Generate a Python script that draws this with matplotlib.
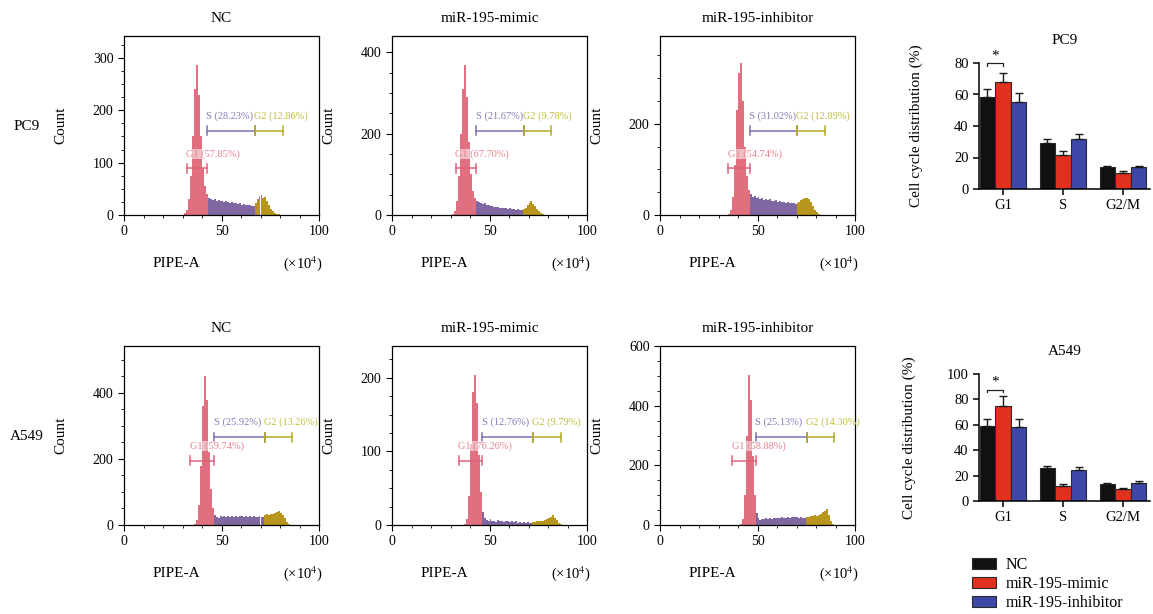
import matplotlib.pyplot as plt
from matplotlib.ticker import MultipleLocator, FixedLocator
from matplotlib.patches import Patch

plt.rcParams['font.family'] = ['Liberation Serif', 'DejaVu Serif']
plt.rcParams['mathtext.fontset'] = 'stix'

groups = ['NC', 'miR-195-mimic', 'miR-195-inhibitor']
phases = ['G1', 'S', 'G2/M']

# flow histograms: counts per bin of 1 (x1e4), first bin start
pc9_start = [31, 31, 35]
pc9_counts = [
    [3, 10, 30, 75, 150, 240, 287, 230, 150, 90, 55, 40, 32, 31, 28, 30, 27, 29, 26, 27,
     25, 27, 24, 23, 25, 22, 23, 21, 22, 20, 21, 19, 20, 19, 18, 18, 22, 30, 36, 38,
     33, 35, 27, 20, 12, 7, 4, 2, 1],
    [3, 10, 35, 95, 200, 310, 368, 290, 180, 100, 60, 42, 35, 33, 30, 28, 29, 25, 24, 22,
     23, 20, 19, 20, 18, 17, 18, 16, 15, 16, 14, 15, 13, 14, 12, 13, 14, 18, 24, 30,
     34, 28, 22, 15, 9, 5, 3, 1],
    [3, 12, 40, 110, 230, 310, 333, 250, 150, 85, 55, 45, 40, 42, 37, 39, 35, 37, 33, 35,
     32, 34, 31, 30, 32, 29, 30, 28, 29, 27, 28, 26, 27, 26, 25, 26, 28, 32, 35, 38,
     37, 34, 28, 20, 12, 6, 3, 1],
]
a549_start = [36, 37, 41]
a549_counts = [
    [3, 15, 60, 180, 360, 451, 380, 220, 110, 50, 30, 25, 22, 26, 24, 27, 23, 26, 25, 28,
     24, 27, 25, 28, 26, 24, 27, 25, 26, 24, 27, 25, 24, 26, 25, 24, 30, 33, 31, 34,
     32, 35, 38, 42, 36, 30, 20, 10, 4, 1],
    [2, 8, 40, 110, 180, 204, 165, 95, 45, 18, 9, 7, 6, 8, 5, 6, 4, 7, 5, 6,
     4, 5, 6, 4, 5, 4, 5, 3, 4, 3, 4, 3, 4, 3, 3, 4, 4, 5, 5, 6,
     6, 7, 8, 9, 11, 13, 10, 7, 3, 1],
    [3, 20, 100, 300, 503, 420, 230, 100, 40, 22, 18, 20, 19, 22, 20, 23, 21, 24, 22, 25,
     23, 26, 24, 25, 27, 25, 26, 28, 26, 27, 25, 26, 24, 25, 26, 27, 29, 30, 32, 31,
     34, 38, 42, 48, 52, 35, 15, 5, 1],
]

# gate edges (x1e4): G1 start, G1|S, S|G2, G2 end
pc9_gates = [[32.3, 42.6, 67.1, 81.4], [32.7, 43.2, 67.5, 81.4], [35.0, 46.0, 70.3, 84.5]]
a549_gates = [[34.0, 46.2, 72.3, 86.4], [34.4, 46.3, 72.3, 86.5], [37.1, 49.1, 75.4, 89.4]]
pc9_pct = [['57.85', '28.23', '12.86'], ['67.70', '21.67', '9.78'], ['54.74', '31.02', '12.89']]
a549_pct = [['59.74', '25.92', '13.26'], ['76.26', '12.76', '9.79'], ['58.88', '25.13', '14.30']]

pc9_ymax = [342, 440, 392]
a549_ymax = [542, 243, 600]
pc9_yticks = [[0, 100, 200, 300], [0, 200, 400], [0, 200]]
a549_yticks = [[0, 200, 400], [0, 100, 200], [0, 200, 400, 600]]

# bar charts: mean and upper error
pc9_mean = [[58.1, 29.0, 13.7], [68.0, 21.9, 10.1], [55.2, 31.6, 13.7]]
pc9_err = [[5.1, 2.8, 1.0], [5.9, 2.5, 1.1], [5.8, 3.1, 1.2]]
a549_mean = [[59.3, 26.0, 13.4], [75.0, 12.1, 9.2], [58.3, 24.7, 14.4]]
a549_err = [[5.3, 1.6, 0.8], [7.9, 1.5, 0.8], [6.3, 2.1, 1.3]]

pink, purple, gold = '#e0707f', '#7f68a2', '#b8961e'
gate_cols = ['#e0607a', '#7f70b0', '#b3aa22']
text_cols = ['#e6828c', '#8878b6', '#c4bc3a']
bar_cols = ['#111111', '#e0301e', '#3d47a8']

W, H = 1153, 614
fig = plt.figure(figsize=(W / 100, H / 100), dpi=100)


def px_axes(l, t, r, b):
    return fig.add_axes([l / W, 1 - b / H, (r - l) / W, (b - t) / H])


def hist_panel(ax, start, counts, gates, pct, ymax, yticks, title, g1y, sy):
    for i, c in enumerate(counts):
        x = start + i
        mid = x + 0.5
        col = pink if mid < gates[1] else (purple if mid < gates[2] else gold)
        ax.bar(x, c, width=1, align='edge', color=col, edgecolor='none')
    ax.set_xlim(0, 100)
    ax.set_ylim(0, ymax)
    ax.xaxis.set_major_locator(FixedLocator([0, 50, 100]))
    ax.xaxis.set_minor_locator(MultipleLocator(10))
    ax.yaxis.set_major_locator(FixedLocator(yticks))
    ax.yaxis.set_minor_locator(MultipleLocator((yticks[1] - yticks[0]) / 4))
    ax.tick_params(which='major', length=4, labelsize=10, direction='out')
    ax.tick_params(which='minor', length=2.5, direction='out')
    for s in ax.spines.values():
        s.set_linewidth(0.9)
    tr = ax.get_xaxis_transform()
    # gates
    spans = [(gates[0], gates[1], g1y), (gates[1], gates[2], sy), (gates[2], gates[3], sy)]
    names = ['G1', 'S', 'G2']
    for k, (a, b, yy) in enumerate(spans):
        ax.plot([a, b], [yy, yy], color=gate_cols[k], lw=1.1, transform=tr)
        for e in (a, b):
            ax.plot([e, e], [yy - 0.025, yy + 0.025], color=gate_cols[k], lw=1.1, transform=tr)
        t = ax.text(a - 0.3, yy + 0.055, f'{names[k]} ({pct[k]}%)', color=text_cols[k],
                    fontsize=7.5, transform=tr, ha='left', va='bottom')
        if k == 0:
            t.set_bbox(dict(facecolor='white', alpha=0.55, edgecolor='none', pad=0.3))
    ax.set_title(title, fontsize=11, pad=10)
    ax.set_ylabel('Count', fontsize=11)
    ax.yaxis.set_label_coords(-0.29, 0.5)
    ax.text(0.27, -0.27, 'PIPE-A', transform=ax.transAxes, ha='center', va='center', fontsize=11)
    ax.text(1.02, -0.27, '(×10$^{4}$)', transform=ax.transAxes, ha='right', va='center', fontsize=10.5)


def bar_panel(ax, means, errs, title, ymax, ystep, br_y, ylab_x):
    w = 0.26
    xs = range(len(phases))
    for g in range(3):
        pos = [x + (g - 1) * w for x in xs]
        ax.bar(pos, means[g], width=w, color=bar_cols[g], edgecolor='#2a2a2a', linewidth=0.8)
        ax.errorbar(pos, means[g], yerr=[[0] * 3, errs[g]], fmt='none', ecolor='#1a1a1a',
                    elinewidth=1, capsize=3, capthick=1)
    ax.set_xlim(-0.4, 2.45)
    ax.set_ylim(0, ymax)
    ax.set_yticks(range(0, ymax + 1, ystep))
    ax.set_xticks(list(xs))
    ax.set_xticklabels(phases)
    for s in ['top', 'right']:
        ax.spines[s].set_visible(False)
    for s in ['left', 'bottom']:
        ax.spines[s].set_linewidth(1.1)
    ax.tick_params(length=4, width=1.1, labelsize=10.5)
    ax.set_title(title, fontsize=11, pad=14)
    ax.set_ylabel('Cell cycle distribution (%)', fontsize=11)
    ax.yaxis.set_label_coords(ylab_x, 0.5)
    x0, x1 = -w, 0
    ax.plot([x0, x0, x1, x1], [br_y - 2, br_y, br_y, br_y - 2], color='#222222', lw=0.9, clip_on=False)
    ax.text((x0 + x1) / 2, br_y + 0.5, '*', ha='center', va='bottom', fontsize=11, clip_on=False)


lefts = [124, 392, 660]
for j in range(3):
    ax = px_axes(lefts[j], 36, lefts[j] + 195, 215)
    hist_panel(ax, pc9_start[j], pc9_counts[j], pc9_gates[j], pc9_pct[j], pc9_ymax[j],
               pc9_yticks[j], groups[j], 0.26, 0.47)
    ax = px_axes(lefts[j], 346, lefts[j] + 195, 525)
    hist_panel(ax, a549_start[j], a549_counts[j], a549_gates[j], a549_pct[j], a549_ymax[j],
               a549_yticks[j], groups[j], 0.36, 0.49)

fig.text(27 / W, 1 - 127 / H, 'PC9', ha='center', va='center', fontsize=11)
fig.text(27 / W, 1 - 436 / H, 'A549', ha='center', va='center', fontsize=11)

ax = px_axes(979, 63, 1150, 189)
bar_panel(ax, pc9_mean, pc9_err, 'PC9', 80, 20, 80, -0.33)
ax = px_axes(979, 374, 1150, 501)
bar_panel(ax, a549_mean, a549_err, 'A549', 100, 20, 87.7, -0.37)

handles = [Patch(facecolor=c, edgecolor='#2a2a2a', linewidth=0.8) for c in bar_cols]
fig.legend(handles, groups, loc='upper left', bbox_to_anchor=(964 / W, 1 - 549 / H), frameon=False,
           fontsize=11.5, handlelength=1.5, handleheight=0.7, handletextpad=0.6, labelspacing=0.2,
           borderpad=0)

fig.savefig('out.png', dpi=100)
